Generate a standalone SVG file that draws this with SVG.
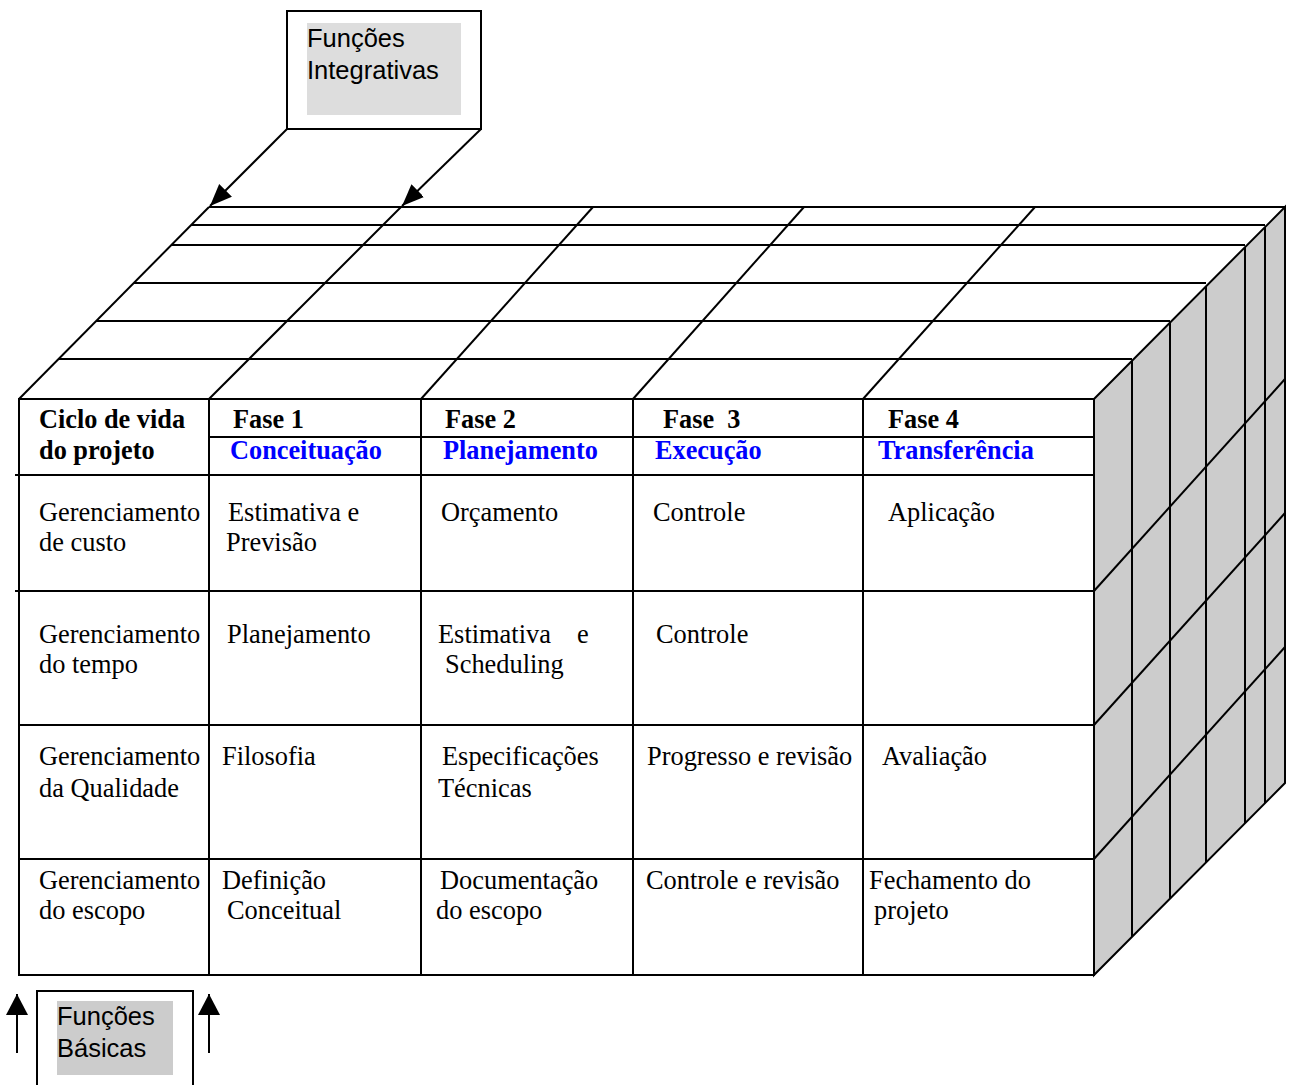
<svg xmlns="http://www.w3.org/2000/svg" width="1290" height="1085" viewBox="0 0 1290 1085">
  <style>
    .ln { stroke: #000; stroke-width: 2; fill: none; }
    .box { stroke: #000; stroke-width: 2; fill: #fff; }
    .lbl { font-family: "Liberation Sans", Arial, sans-serif; font-size: 25.5px; fill: #000; }
    .cell { font-family: "Liberation Serif", "Times New Roman", serif; font-size: 26.4px; fill: #000; }
    .head { font-family: "Liberation Serif", "Times New Roman", serif; font-size: 26.3px; font-weight: bold; fill: #000; }
    .phase { font-family: "Liberation Serif", "Times New Roman", serif; font-size: 26.3px; font-weight: bold; fill: #0000ff; }
  </style>
  <defs>
    <marker id="arrowDiag" markerUnits="userSpaceOnUse" markerWidth="24" markerHeight="20" refX="22" refY="9" orient="auto">
      <path d="M0,0 L22,9 L0,18 z" fill="#000"/>
    </marker>
    <marker id="arrowUp" markerUnits="userSpaceOnUse" markerWidth="24" markerHeight="24" refX="21" refY="11" orient="auto">
      <path d="M0,0 L21,11 L0,22 z" fill="#000"/>
    </marker>
  </defs>
  <rect width="1290" height="1085" fill="#fff"/>

  <!-- cube: front table, top face and shaded side -->
  <g id="cube">
    <!-- side face -->
    <polygon points="1094,399 1285,207 1285,783 1094,975" fill="#cccccc" stroke="#000" stroke-width="2"/>
    <g class="ln">
      <line x1="1132" y1="361" x2="1132" y2="937"/>
      <line x1="1170" y1="323" x2="1170" y2="899"/>
      <line x1="1206" y1="286" x2="1206" y2="862"/>
      <line x1="1245" y1="247" x2="1245" y2="823"/>
      <line x1="1265" y1="227" x2="1265" y2="803"/>
      <line x1="1094" y1="591" x2="1285" y2="379"/>
      <line x1="1094" y1="725" x2="1285" y2="513"/>
      <line x1="1094" y1="859" x2="1285" y2="647"/>
    </g>
    <!-- top face -->
    <g class="ln">
      <line x1="209" y1="207" x2="1285" y2="207"/>
      <line x1="191" y1="225" x2="1265" y2="225"/>
      <line x1="171" y1="245" x2="1245" y2="245"/>
      <line x1="134" y1="283" x2="1206" y2="283"/>
      <line x1="96" y1="321" x2="1170" y2="321"/>
      <line x1="58" y1="359" x2="1132" y2="359"/>
      <line x1="19" y1="399" x2="209" y2="207"/>
      <line x1="209" y1="399" x2="401" y2="207"/>
      <line x1="421" y1="399" x2="593" y2="207"/>
      <line x1="633" y1="399" x2="804" y2="207"/>
      <line x1="863" y1="399" x2="1035" y2="207"/>
    </g>
    <!-- front table grid -->
    <rect x="19" y="399" width="1075" height="576" class="ln"/>
    <g class="ln">
      <line x1="209" y1="437" x2="1094" y2="437"/>
      <line x1="15" y1="475" x2="1094" y2="475"/>
      <line x1="15" y1="591" x2="1094" y2="591"/>
      <line x1="19" y1="725" x2="1094" y2="725"/>
      <line x1="19" y1="859" x2="1094" y2="859"/>
      <line x1="209" y1="399" x2="209" y2="975"/>
      <line x1="421" y1="399" x2="421" y2="975"/>
      <line x1="633" y1="399" x2="633" y2="975"/>
      <line x1="863" y1="399" x2="863" y2="975"/>
    </g>

    <!-- header row -->
    <text class="head" x="39" y="428">Ciclo de vida</text>
    <text class="head" x="39" y="459">do projeto</text>
    <text class="head" x="233" y="428">Fase 1</text>
    <text class="phase" x="230" y="459">Conceituação</text>
    <text class="head" x="445" y="428">Fase 2</text>
    <text class="phase" x="443" y="459">Planejamento</text>
    <text class="head" x="663" y="428" xml:space="preserve">Fase  3</text>
    <text class="phase" x="655" y="459">Execução</text>
    <text class="head" x="888" y="428">Fase 4</text>
    <text class="phase" x="878" y="459">Transferência</text>

    <!-- custo -->
    <text class="cell" x="39" y="521">Gerenciamento</text>
    <text class="cell" x="39" y="551">de custo</text>
    <text class="cell" x="228" y="521">Estimativa e</text>
    <text class="cell" x="226" y="551">Previsão</text>
    <text class="cell" x="441" y="521">Orçamento</text>
    <text class="cell" x="653" y="521">Controle</text>
    <text class="cell" x="888" y="521">Aplicação</text>

    <!-- tempo -->
    <text class="cell" x="39" y="643">Gerenciamento</text>
    <text class="cell" x="39" y="673">do tempo</text>
    <text class="cell" x="227" y="643">Planejamento</text>
    <text class="cell" x="438" y="643">Estimativa<tspan x="577">e</tspan></text>
    <text class="cell" x="445" y="673">Scheduling</text>
    <text class="cell" x="656" y="643">Controle</text>

    <!-- qualidade -->
    <text class="cell" x="39" y="765">Gerenciamento</text>
    <text class="cell" x="39" y="797">da Qualidade</text>
    <text class="cell" x="222" y="765">Filosofia</text>
    <text class="cell" x="442" y="765">Especificações</text>
    <text class="cell" x="438" y="797">Técnicas</text>
    <text class="cell" x="647" y="765">Progresso e revisão</text>
    <text class="cell" x="882" y="765">Avaliação</text>

    <!-- escopo -->
    <text class="cell" x="39" y="889">Gerenciamento</text>
    <text class="cell" x="39" y="919">do escopo</text>
    <text class="cell" x="222" y="889">Definição</text>
    <text class="cell" x="227" y="919">Conceitual</text>
    <text class="cell" x="440" y="889">Documentação</text>
    <text class="cell" x="436" y="919">do escopo</text>
    <text class="cell" x="646" y="889">Controle e revisão</text>
    <text class="cell" x="869" y="889">Fechamento do</text>
    <text class="cell" x="874" y="919">projeto</text>
  </g>

  <!-- integrative functions label -->
  <g id="funcoes-integrativas">
    <rect x="287" y="11" width="194" height="118" class="box"/>
    <rect x="307" y="23" width="154" height="92" fill="#dddddd"/>
    <text class="lbl" x="307" y="47">Funções</text>
    <text class="lbl" x="307" y="79">Integrativas</text>
  </g>

  <!-- basic functions label -->
  <g id="funcoes-basicas">
    <rect x="37" y="991" width="156" height="110" class="box"/>
    <rect x="57" y="1001" width="116" height="74" fill="#cccccc"/>
    <text class="lbl" x="57" y="1025">Funções</text>
    <text class="lbl" x="57" y="1057">Básicas</text>
  </g>

  <!-- connectors -->
  <g id="connectors" class="ln">
    <line x1="287" y1="129" x2="210" y2="206" marker-end="url(#arrowDiag)"/>
    <line x1="481" y1="129" x2="402" y2="206" marker-end="url(#arrowDiag)"/>
    <line x1="17" y1="1053" x2="17" y2="994" marker-end="url(#arrowUp)"/>
    <line x1="209" y1="1053" x2="209" y2="994" marker-end="url(#arrowUp)"/>
  </g>
</svg>
